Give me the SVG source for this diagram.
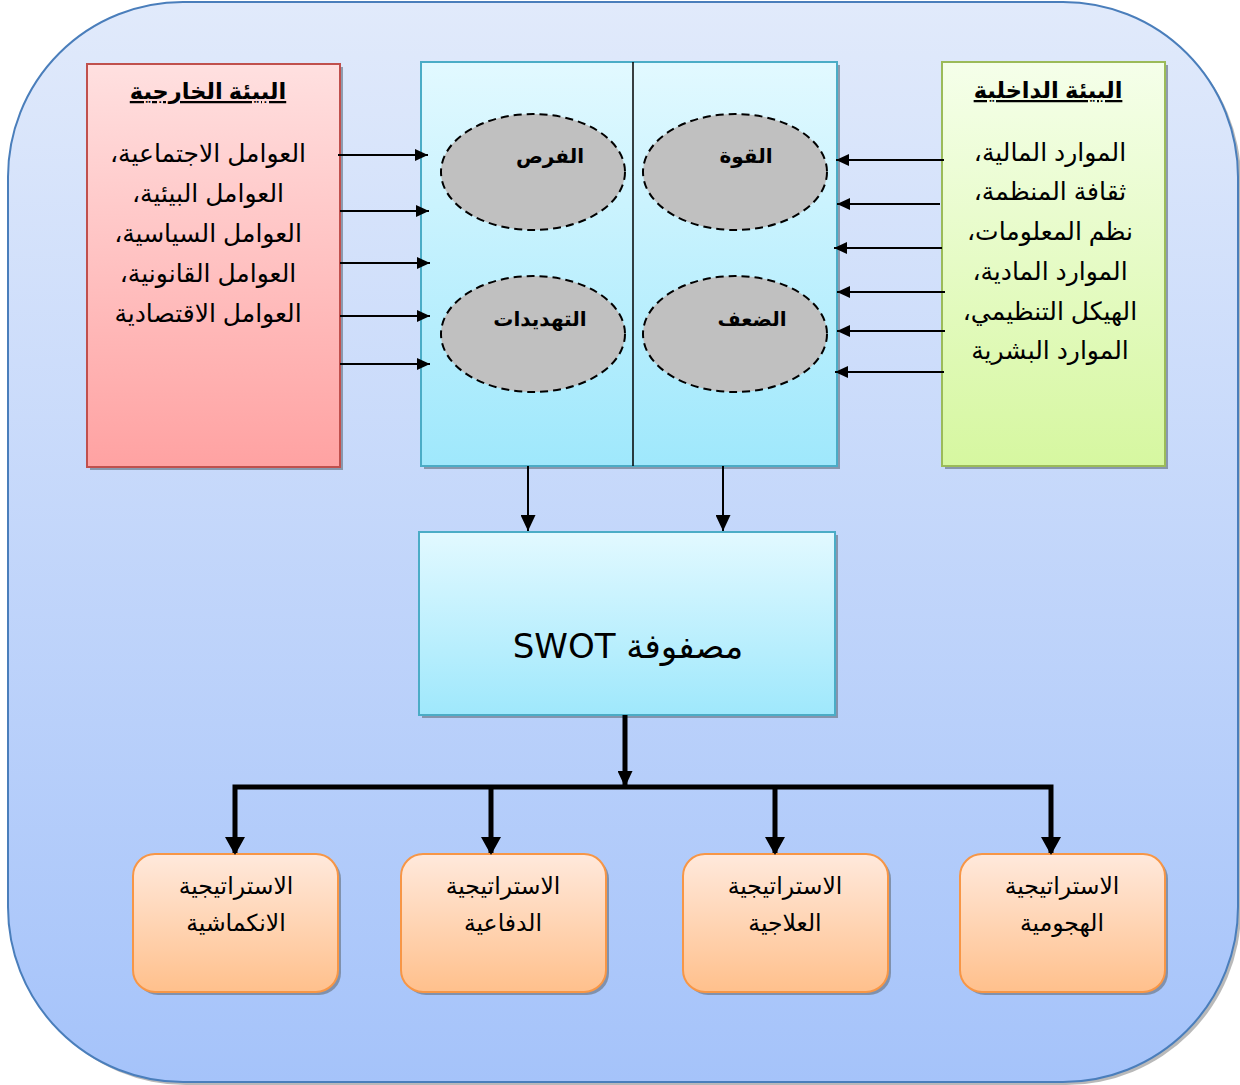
<svg xmlns="http://www.w3.org/2000/svg" width="1240" height="1085" viewBox="0 0 1240 1085">
<defs>
<linearGradient id="gBg" x1="0" y1="0" x2="0" y2="1"><stop offset="0" stop-color="#e1eafb"/><stop offset="1" stop-color="#a5c3fa"/></linearGradient>
<linearGradient id="gRed" x1="0" y1="0" x2="0" y2="1"><stop offset="0" stop-color="#ffe0e0"/><stop offset="1" stop-color="#ffa2a2"/></linearGradient>
<linearGradient id="gCyan" x1="0" y1="0" x2="0" y2="1"><stop offset="0" stop-color="#e2f9ff"/><stop offset="1" stop-color="#9fe8fc"/></linearGradient>
<linearGradient id="gGreen" x1="0" y1="0" x2="0" y2="1"><stop offset="0" stop-color="#f5ffea"/><stop offset="1" stop-color="#d6f7a0"/></linearGradient>
<linearGradient id="gOrange" x1="0" y1="0" x2="0" y2="1"><stop offset="0" stop-color="#ffe9dc"/><stop offset="1" stop-color="#ffc08c"/></linearGradient>
<marker id="ah" viewBox="0 0 10 10" refX="10" refY="5" markerWidth="13" markerHeight="12" markerUnits="userSpaceOnUse" orient="auto" preserveAspectRatio="none"><path d="M0,0 L10,5 L0,10 z" fill="#000"/></marker>
<marker id="ahBig" viewBox="0 0 10 10" refX="10" refY="5" markerWidth="16" markerHeight="15" markerUnits="userSpaceOnUse" orient="auto" preserveAspectRatio="none"><path d="M0,0 L10,5 L0,10 z" fill="#000"/></marker>
</defs>
<style>
.shadow{fill:#6d7a8c;opacity:0.7}
.ar{font-family:"Liberation Sans","DejaVu Sans",sans-serif;fill:#000;text-anchor:middle;direction:rtl}
.title{font-size:22.5px;font-weight:bold;text-decoration:underline}
.item{font-size:25px}
.ell{fill:#c0c0c0;stroke:#000;stroke-width:2;stroke-dasharray:8,5}
.elab{font-size:20px;font-weight:bold}
.thin{stroke:#000;stroke-width:2;fill:none}
.thick{stroke:#000;stroke-width:5;fill:none}
.strat{font-size:23.5px}
</style>
<g id="background">
<rect x="11" y="5" width="1230" height="1080" rx="175" ry="175" fill="#8a8a8a" opacity="0.6"/>
<rect x="8" y="2" width="1230" height="1080" rx="175" ry="175" fill="url(#gBg)" stroke="#4a7ebb" stroke-width="2"/>
</g>
<g id="external">
<rect x="90" y="67" width="253" height="403" class="shadow"/>
<rect x="87" y="64" width="253" height="403" fill="url(#gRed)" stroke="#c0504d" stroke-width="2"/>
<text class="ar title" x="208" y="99">البيئة الخارجية</text>
<text class="ar item" x="208" y="162">العوامل الاجتماعية،</text>
<text class="ar item" x="208" y="202">العوامل البيئية،</text>
<text class="ar item" x="208" y="242">العوامل السياسية،</text>
<text class="ar item" x="208" y="282">العوامل القانونية،</text>
<text class="ar item" x="208" y="322">العوامل الاقتصادية</text>
</g>
<g id="swot-factors">
<rect x="424" y="65" width="416" height="404" class="shadow"/>
<rect x="421" y="62" width="416" height="404" fill="url(#gCyan)" stroke="#4bacc6" stroke-width="2"/>
<line x1="633" y1="62" x2="633" y2="466" stroke="#000" stroke-width="1.5"/>
</g>
<g id="opportunities">
<ellipse class="ell" cx="533" cy="172" rx="92" ry="58"/>
<text class="ar elab" x="550" y="163">الفرص</text>
</g>
<g id="strengths">
<ellipse class="ell" cx="735" cy="172" rx="92" ry="58"/>
<text class="ar elab" x="746" y="163">القوة</text>
</g>
<g id="threats">
<ellipse class="ell" cx="533" cy="334" rx="92" ry="58"/>
<text class="ar elab" x="540" y="326">التهديدات</text>
</g>
<g id="weaknesses">
<ellipse class="ell" cx="735" cy="334" rx="92" ry="58"/>
<text class="ar elab" x="752" y="326">الضعف</text>
</g>
<g id="internal">
<rect x="945" y="65" width="223" height="404" class="shadow"/>
<rect x="942" y="62" width="223" height="404" fill="url(#gGreen)" stroke="#9bbb59" stroke-width="2"/>
<text class="ar title" x="1048" y="98">البيئة الداخلية</text>
<text class="ar item" x="1050" y="161">الموارد المالية،</text>
<text class="ar item" x="1050" y="200">ثقافة المنظمة،</text>
<text class="ar item" x="1050" y="240">نظم المعلومات،</text>
<text class="ar item" x="1050" y="280">الموارد المادية،</text>
<text class="ar item" x="1050" y="320">الهيكل التنظيمي،</text>
<text class="ar item" x="1050" y="359">الموارد البشرية</text>
</g>
<g id="matrix">
<rect x="422" y="535" width="416" height="183" class="shadow"/>
<rect x="419" y="532" width="416" height="183" fill="url(#gCyan)" stroke="#4bacc6" stroke-width="2"/>
<text x="628" y="658" font-family="DejaVu Sans, sans-serif" font-size="34" text-anchor="middle" direction="rtl" fill="#000">مصفوفة SWOT</text>
</g>
<g id="strat-defensive-retreat">
<rect x="136" y="857" width="205" height="138" rx="22" class="shadow"/>
<rect x="133" y="854" width="205" height="138" rx="22" fill="url(#gOrange)" stroke="#f79646" stroke-width="2"/>
<text class="ar strat" x="236" y="894">الاستراتيجية</text>
<text class="ar strat" x="236" y="931">الانكماشية</text>
</g>
<g id="strat-defensive">
<rect x="404" y="857" width="205" height="138" rx="22" class="shadow"/>
<rect x="401" y="854" width="205" height="138" rx="22" fill="url(#gOrange)" stroke="#f79646" stroke-width="2"/>
<text class="ar strat" x="503" y="894">الاستراتيجية</text>
<text class="ar strat" x="503" y="931">الدفاعية</text>
</g>
<g id="strat-remedial">
<rect x="686" y="857" width="205" height="138" rx="22" class="shadow"/>
<rect x="683" y="854" width="205" height="138" rx="22" fill="url(#gOrange)" stroke="#f79646" stroke-width="2"/>
<text class="ar strat" x="785" y="894">الاستراتيجية</text>
<text class="ar strat" x="785" y="931">العلاجية</text>
</g>
<g id="strat-offensive">
<rect x="963" y="857" width="205" height="138" rx="22" class="shadow"/>
<rect x="960" y="854" width="205" height="138" rx="22" fill="url(#gOrange)" stroke="#f79646" stroke-width="2"/>
<text class="ar strat" x="1062" y="894">الاستراتيجية</text>
<text class="ar strat" x="1062" y="931">الهجومية</text>
</g>
<g id="connectors">
<line class="thin" x1="338" y1="155" x2="428" y2="155" marker-end="url(#ah)"/>
<line class="thin" x1="340" y1="211" x2="429" y2="211" marker-end="url(#ah)"/>
<line class="thin" x1="340" y1="263" x2="430" y2="263" marker-end="url(#ah)"/>
<line class="thin" x1="340" y1="316" x2="430" y2="316" marker-end="url(#ah)"/>
<line class="thin" x1="340" y1="364" x2="430" y2="364" marker-end="url(#ah)"/>
<line class="thin" x1="944" y1="160" x2="836" y2="160" marker-end="url(#ah)"/>
<line class="thin" x1="940" y1="204" x2="837" y2="204" marker-end="url(#ah)"/>
<line class="thin" x1="942" y1="248" x2="834" y2="248" marker-end="url(#ah)"/>
<line class="thin" x1="945" y1="292" x2="837" y2="292" marker-end="url(#ah)"/>
<line class="thin" x1="945" y1="331" x2="837" y2="331" marker-end="url(#ah)"/>
<line class="thin" x1="944" y1="372" x2="835" y2="372" marker-end="url(#ah)"/>
<line class="thin" x1="528" y1="466" x2="528" y2="531" marker-end="url(#ahBig)"/>
<line class="thin" x1="723" y1="466" x2="723" y2="531" marker-end="url(#ahBig)"/>
<line class="thick" x1="625" y1="715" x2="625" y2="787" marker-end="url(#ahBig)"/>
<polyline class="thick" points="235,853 235,787 1051,787 1051,853" stroke-linejoin="miter"/>
<line class="thick" x1="491" y1="787" x2="491" y2="853"/>
<line class="thick" x1="775" y1="787" x2="775" y2="853"/>
<path d="M225,837 L245,837 L235,855 z M481,837 L501,837 L491,855 z M765,837 L785,837 L775,855 z M1041,837 L1061,837 L1051,855 z" fill="#000"/>
</g>
</svg>
